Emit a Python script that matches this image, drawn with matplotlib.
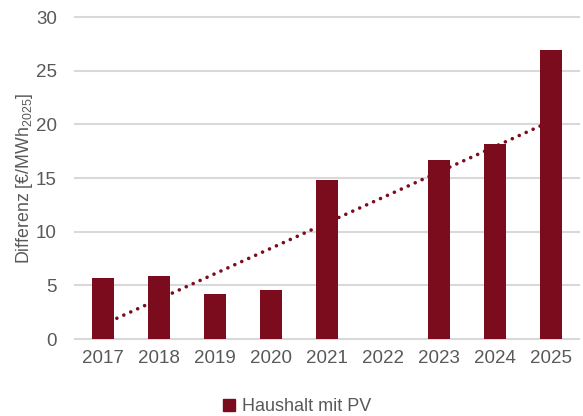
import matplotlib
matplotlib.use("Agg")
import matplotlib.pyplot as plt
from matplotlib.patches import Patch
import numpy as np

years = ["2017", "2018", "2019", "2020", "2021", "2022", "2023", "2024", "2025"]
values = [5.7, 5.9, 4.2, 4.6, 14.8, np.nan, 16.7, 18.2, 26.9]
trend_start = 1.35
trend_end = 20.3
series_name = "Haushalt mit PV"
yticks = [0, 5, 10, 15, 20, 25, 30]

bar_color = "#7A0C1E"
text_color = "#595959"
grid_color = "#D9D9D9"

plt.rcParams['font.family'] = ['Liberation Sans', 'DejaVu Sans']
plt.rcParams['mathtext.default'] = 'regular'

fig = plt.figure(figsize=(5.83, 4.16), dpi=100)
ax = fig.add_axes([0.1286, 0.185, 0.8644, 0.774])

x = np.arange(len(years))
ax.plot([x[0], x[-1]], [trend_start, trend_end], color=bar_color, lw=2.6,
        linestyle=(0, (0.01, 2.1)), dash_capstyle='round', zorder=2)
ax.bar(x, values, width=0.4, color=bar_color, zorder=3)

ax.set_xlim(-0.5, len(years) - 0.5)
ax.set_ylim(0, 30)
ax.set_yticks(yticks)
ax.set_xticks(x)
ax.set_xticklabels(years)
for s in ax.spines.values():
    s.set_visible(False)
ax.yaxis.grid(True, color=grid_color, lw=1.5, zorder=0)
for gl in ax.get_ygridlines():
    gl.set_clip_on(False)
ax.set_axisbelow(True)
ax.tick_params(axis='both', length=0, labelsize=13.5, colors=text_color)
ax.tick_params(axis='y', pad=13)
ax.tick_params(axis='x', pad=8)
ax.set_ylabel("Differenz [€/MWh$_{2025}$]", fontsize=12.8, color=text_color)
ax.yaxis.set_label_coords(-0.08, 0.5)

fig.legend(handles=[Patch(color=bar_color, label=series_name)], loc='center',
           bbox_to_anchor=(0.51, 0.022), frameon=False, fontsize=13,
           labelcolor=text_color, handlelength=0.65, handleheight=0.65, handletextpad=0.4)

fig.savefig("out.png", dpi=100)
